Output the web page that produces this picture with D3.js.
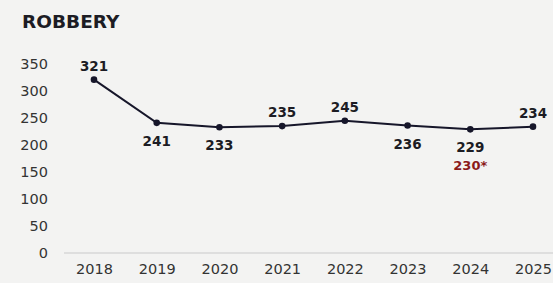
<!DOCTYPE html>
<html><head><meta charset="utf-8">
<script src="https://cdn.jsdelivr.net/npm/d3@7"></script>
<style>body{margin:0;background:#f3f3f2;}svg{display:block;}</style>
</head><body>
<script>
const years = ["2018","2019","2020","2021","2022","2023","2024","2025"];
const values = [321,241,233,235,245,236,229,234];
const labelPos = ["above","below","below","above","above","below","below","above"];
const extraYear = "2024";
const extraLabel = "230*";
const yTicks = [0,50,100,150,200,250,300,350];

const W=553,H=283;
const svg=d3.select("body").append("svg").attr("width",W).attr("height",H);
svg.append("rect").attr("width",W).attr("height",H).attr("fill","#f3f3f2");
const x=d3.scalePoint().domain(years).range([94,533]);
const y=d3.scaleLinear().domain([0,350]).range([253,64]);
const font="'DejaVu Sans', sans-serif";

svg.append("text").attr("x",22).attr("y",28).text("ROBBERY")
  .attr("font-family",font).attr("font-weight",700).attr("font-size",18.5).attr("fill","#1c1c24");

// baseline
svg.append("line").attr("x1",64).attr("x2",553).attr("y1",y(0)).attr("y2",y(0))
  .attr("stroke","#c9c9c9").attr("stroke-width",1.2);

// y tick labels
const ya=svg.append("g").attr("transform","translate(48,0)")
  .call(d3.axisLeft(y).tickValues(yTicks).tickSize(0).tickPadding(0));
ya.select(".domain").remove();
ya.selectAll("text").attr("font-family",font).attr("font-size",14.5).attr("fill","#333");

// x tick labels
const xa=svg.append("g").attr("transform",`translate(0,${y(0)})`)
  .call(d3.axisBottom(x).tickSize(0).tickPadding(11));
xa.select(".domain").remove();
xa.selectAll("text").attr("font-family",font).attr("font-size",14.5).attr("fill","#333");

const line=d3.line().x((d,i)=>x(years[i])).y(d=>y(d));
svg.append("path").datum(values).attr("d",line).attr("fill","none")
  .attr("stroke","#16162a").attr("stroke-width",2);
svg.selectAll("circle.pt").data(values).join("circle").attr("class","pt")
  .attr("cx",(d,i)=>x(years[i])).attr("cy",d=>y(d)).attr("r",3.3).attr("fill","#16162a");

svg.selectAll("text.val").data(values).join("text").attr("class","val")
  .attr("x",(d,i)=>x(years[i])).attr("y",(d,i)=>labelPos[i]==="above"?y(d)-9:y(d)+23)
  .attr("text-anchor","middle").text(d=>d)
  .attr("font-family",font).attr("font-weight",700).attr("font-size",13.5).attr("fill","#1c1c24");

const ei=years.indexOf(extraYear);
svg.append("text").attr("x",x(extraYear)).attr("y",y(values[ei])+41)
  .attr("text-anchor","middle").text(extraLabel)
  .attr("font-family",font).attr("font-weight",700).attr("font-size",13).attr("fill","#8b1a1a");
</script>
</body></html>
